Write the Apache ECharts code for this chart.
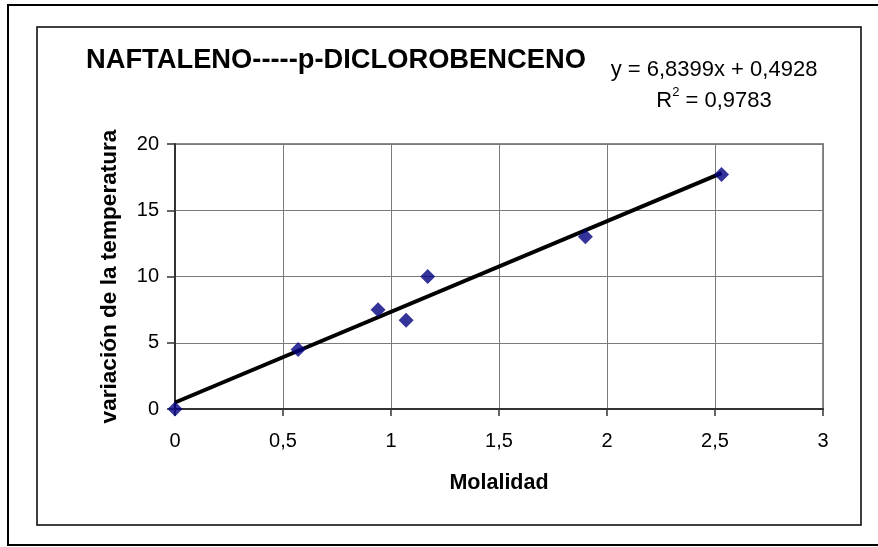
<!DOCTYPE html>
<html>
<head>
<meta charset="utf-8">
<script src="https://cdn.jsdelivr.net/npm/echarts@6/dist/echarts.min.js"></script>
<style>
  html, body { margin: 0; padding: 0; background: #fff; }
  #main { width: 878px; height: 547px; }
</style>
</head>
<body>
<div id="main"></div>
<script>
// measured points: molality vs temperature change
const molalidad = [0, 0.57, 0.94, 1.07, 1.17, 1.9, 2.53];
const deltaT = [0, 4.5, 7.5, 6.7, 10.0, 13.0, 17.7];

// linear trend line end points, y = 6,8399x + 0,4928
const trendX = [0, 2.53];
const trendY = [0.4928, 17.7978];

const titleText = 'NAFTALENO-----p-DICLOROBENCENO';
const eqLine = 'y = 6,8399x + 0,4928';
const r2Value = '0,9783';

const font = '"Liberation Sans", Arial, sans-serif';
const comma = v => String(v).replace('.', ',');

const chart = echarts.init(document.getElementById('main'));

const option = {
    animation: false,
    backgroundColor: '#fff',
    textStyle: { fontFamily: font },
    grid: {
        left: 175, right: 55, top: 144, bottom: 138,
        show: true, borderColor: '#8c8c8c', borderWidth: 2
    },
    xAxis: {
        type: 'value', min: 0, max: 3, interval: 0.5,
        name: 'Molalidad', nameLocation: 'middle', nameGap: 63,
        nameTextStyle: { fontSize: 21.5, fontWeight: 'bold', color: '#000' },
        axisLine: { lineStyle: { color: '#333', width: 2 } },
        axisTick: { show: true, inside: false, length: 7, lineStyle: { color: '#333', width: 1.5 } },
        axisLabel: { fontSize: 20, color: '#000', margin: 22, formatter: comma },
        splitLine: { lineStyle: { color: '#7a7a7a', width: 1 } }
    },
    yAxis: {
        type: 'value', min: 0, max: 20, interval: 5,
        name: 'variación de la temperatura', nameLocation: 'middle', nameGap: 54,
        nameTextStyle: { fontSize: 22.6, fontWeight: 'bold', color: '#000' },
        axisLine: { show: true, lineStyle: { color: '#333', width: 2 } },
        axisTick: { show: true, inside: false, length: 8, lineStyle: { color: '#333', width: 1.5 } },
        axisLabel: { fontSize: 20, color: '#000', margin: 16 },
        splitLine: { lineStyle: { color: '#7a7a7a', width: 1 } }
    },
    graphic: [
        {
            type: 'rect', silent: true, z: -1,
            shape: { x: 8, y: 5, width: 880, height: 540 },
            style: { fill: 'none', stroke: '#000', lineWidth: 2 }
        },
        {
            type: 'rect', silent: true, z: -1,
            shape: { x: 37, y: 27, width: 824, height: 498 },
            style: { fill: 'none', stroke: '#000', lineWidth: 1.5 }
        },
        {
            type: 'text', x: 86, y: 60,
            style: {
                text: titleText, fill: '#000',
                font: 'bold 27.3px ' + font,
                textAlign: 'left', textVerticalAlign: 'middle'
            }
        },
        {
            type: 'text', x: 714, y: 70,
            style: {
                text: eqLine, fill: '#000',
                font: '22px ' + font,
                textAlign: 'center', textVerticalAlign: 'middle'
            }
        },
        {
            type: 'text', x: 714, y: 101,
            style: {
                text: '{n|R}{s|2}{n| = ' + r2Value + '}',
                textAlign: 'center', textVerticalAlign: 'middle',
                rich: {
                    n: { fontSize: 22, fontFamily: font, color: '#000', lineHeight: 30 },
                    s: { fontSize: 13, fontFamily: font, color: '#000', lineHeight: 13, verticalAlign: 'top' }
                }
            }
        }
    ],
    series: [
        {
            name: 'tendencia',
            type: 'line',
            data: trendX.map((x, i) => [x, trendY[i]]),
            showSymbol: false,
            lineStyle: { color: '#000', width: 4 },
            z: 2
        },
        {
            name: 'datos',
            type: 'scatter',
            data: molalidad.map((x, i) => [x, deltaT[i]]),
            symbol: 'diamond',
            symbolSize: 15,
            clip: false,
            itemStyle: { color: '#000080' },
            z: 3
        }
    ]
};

chart.setOption(option);
</script>
</body>
</html>
